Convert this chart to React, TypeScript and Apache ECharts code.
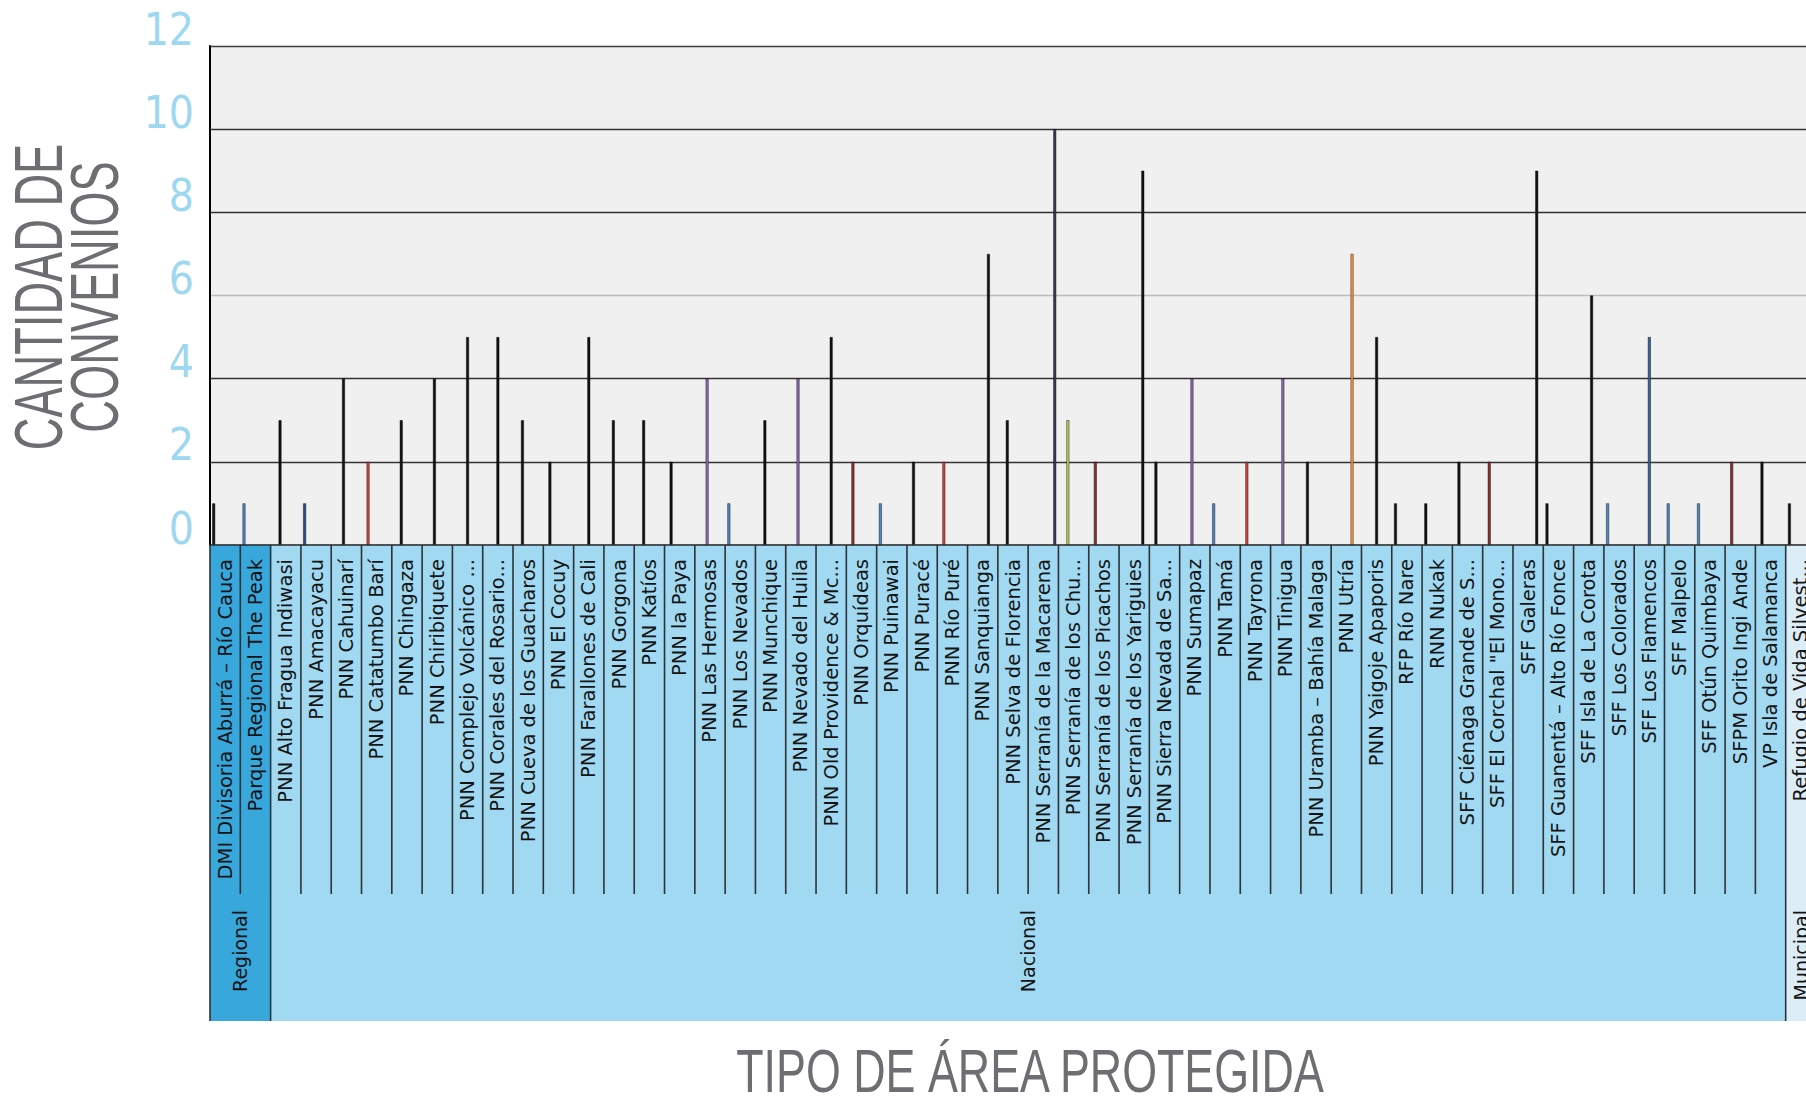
import React, { useEffect, useRef } from "react";
import * as echarts from "echarts";

// Protected areas (category axis), in chart order
const categories: string[] = [
  "DMI Divisoria Aburrá – Río Cauca",
  "Parque Regional The Peak",
  "PNN Alto Fragua Indiwasi",
  "PNN Amacayacu",
  "PNN Cahuinarí",
  "PNN Catatumbo Barí",
  "PNN Chingaza",
  "PNN Chiribiquete",
  "PNN Complejo Volcánico ...",
  "PNN Corales del Rosario...",
  "PNN Cueva de los Guacharos",
  "PNN El Cocuy",
  "PNN Farallones de Cali",
  "PNN Gorgona",
  "PNN Katíos",
  "PNN la Paya",
  "PNN Las Hermosas",
  "PNN Los Nevados",
  "PNN Munchique",
  "PNN Nevado del Huila",
  "PNN Old Providence & Mc...",
  "PNN Orquídeas",
  "PNN Puinawai",
  "PNN Puracé",
  "PNN Río Puré",
  "PNN Sanquianga",
  "PNN Selva de Florencia",
  "PNN Serranía de la Macarena",
  "PNN Serranía de los Chu...",
  "PNN Serranía de los Picachos",
  "PNN Serranía de los Yariguies",
  "PNN Sierra Nevada de Sa...",
  "PNN Sumapaz",
  "PNN Tamá",
  "PNN Tayrona",
  "PNN Tinigua",
  "PNN Uramba – Bahía Malaga",
  "PNN Utría",
  "PNN Yaigoje Apaporis",
  "RFP Río Nare",
  "RNN Nukak",
  "SFF Ciénaga Grande de S...",
  'SFF El Corchal "El Mono...',
  "SFF Galeras",
  "SFF Guanentá – Alto Río Fonce",
  "SFF Isla de La Corota",
  "SFF Los Colorados",
  "SFF Los Flamencos",
  "SFF Malpelo",
  "SFF Otún Quimbaya",
  "SFPM Orito Ingi Ande",
  "VP Isla de Salamanca",
  "Refugio de Vida Silvest...",
];

// Cantidad de convenios per protected area
const values: number[] = [
  1, 1, 3, 1, 4, 2, 3, 4, 5, 5, 3, 2, 5, 3, 3, 2, 4, 1, 3, 4, 5, 2, 1, 2, 2, 7, 3,
  10, 3, 2, 9, 2, 4, 1, 2, 4, 2, 7, 5, 1, 1, 2, 2, 9, 1, 6, 1, 5, 1, 1, 2, 2, 1,
];

// Group level of the category axis (tipo de área) and how many areas each holds
const groupNames: string[] = ["Regional", "Nacional", "Municipal"];
const groupCounts: number[] = [2, 50, 1];

// Y axis ticks
const yTicks: number[] = [0, 2, 4, 6, 8, 10, 12];

// Bar colour key per area
const barColorKeys: string[] = [
  "k", "b", "k", "db", "k", "r", "k", "k", "k", "k", "k", "k", "k", "k", "k", "k",
  "p", "b", "k", "p", "k", "dr", "b", "k", "r", "k", "k", "dp", "g", "dr", "k", "k",
  "p", "b", "r", "p", "k", "o", "k", "k", "k", "k", "dr", "k", "k", "k", "b", "nb",
  "b", "b", "dr", "k", "k",
];

const palette: Record<string, string> = {
  k: "#111111",
  b: "#4f86c6",
  db: "#234a82",
  nb: "#3a6496",
  r: "#d0463f",
  dr: "#86302c",
  p: "#8a6bb0",
  dp: "#433259",
  g: "#b3d05a",
  o: "#f59a3c",
};

const groupColors = ["#38a7dc", "#a0d9f1", "#dcedf8"];

export default function App() {
  const ref = useRef<HTMLDivElement>(null);

  useEffect(() => {
    if (!ref.current) return;
    const chart = echarts.init(ref.current, undefined, { renderer: "svg" });

    const distinct = Array.from(new Set(values)).sort((a, b) => a - b);
    const barSeries = distinct.map((v) => ({
      type: "bar",
      name: String(v),
      xAxisIndex: 0,
      yAxisIndex: 0,
      barGap: "0%",
      barCategoryGap: "15%",
      silent: true,
      z: 2,
      itemStyle: { borderColor: "#0d0d0d", borderWidth: 0.45 },
      data: values.map((x, i) =>
        x === v ? { value: x, itemStyle: { color: palette[barColorKeys[i]] } } : "-"
      ),
    }));

    // category -> group index
    const catGroup: number[] = [];
    groupCounts.forEach((n, gi) => {
      for (let k = 0; k < n; k++) catGroup.push(gi);
    });
    const groupSpans: number[][] = [];
    let acc = 0;
    groupCounts.forEach((n, gi) => {
      groupSpans.push([acc, acc + n, gi]);
      acc += n;
    });

    const cellSeries = {
      type: "custom",
      xAxisIndex: 1,
      yAxisIndex: 1,
      silent: true,
      z: 1,
      clip: false,
      data: categories.map((_, i) => [i, catGroup[i]]),
      renderItem: (params: any, api: any) => {
        const i = api.value(0);
        const g = api.value(1);
        const p0 = api.coord([i, 1]);
        const p1 = api.coord([i + 1, 0]);
        return {
          type: "group",
          children: [
            {
              type: "rect",
              shape: { x: p0[0], y: p0[1], width: p1[0] - p0[0], height: p1[1] - p0[1] },
              style: { fill: groupColors[g] },
            },
            {
              type: "line",
              shape: { x1: p0[0], y1: p0[1], x2: p0[0], y2: p1[1] },
              style: { stroke: "#2c3338", lineWidth: 1.6 },
            },
          ],
        };
      },
    };

    const groupSeries = {
      type: "custom",
      xAxisIndex: 2,
      yAxisIndex: 2,
      silent: true,
      z: 1,
      clip: false,
      data: groupSpans,
      renderItem: (params: any, api: any) => {
        const s = api.value(0);
        const e = api.value(1);
        const gi = api.value(2);
        const p0 = api.coord([s, 1]);
        const p1 = api.coord([e, 0]);
        return {
          type: "group",
          children: [
            {
              type: "rect",
              shape: { x: p0[0], y: p0[1], width: p1[0] - p0[0], height: p1[1] - p0[1] },
              style: { fill: groupColors[gi] },
            },
            {
              type: "line",
              shape: { x1: p0[0], y1: p0[1], x2: p0[0], y2: p1[1] },
              style: { stroke: "#2c3338", lineWidth: 1.6 },
            },
            {
              type: "text",
              x: (p0[0] + p1[0]) / 2,
              y: p0[1] + 16,
              rotation: Math.PI / 2,
              style: {
                text: groupNames[gi],
                fill: "#141414",
                font: '19px "DejaVu Sans"',
                align: "right",
                verticalAlign: "middle",
                textAlign: "right",
                textVerticalAlign: "middle",
              },
            },
          ],
        };
      },
    };

    const gridBase = { left: 210, width: 1606, outerBoundsMode: "none", containLabel: false };

    const option: any = {
      animation: false,
      backgroundColor: "#ffffff",
      grid: [
        { ...gridBase, top: 46, height: 499, show: true, backgroundColor: "#f0f0f0", borderWidth: 0 },
        { ...gridBase, top: 545, height: 349 },
        { ...gridBase, top: 894, height: 127 },
      ],
      xAxis: [
        {
          type: "category",
          gridIndex: 0,
          data: categories,
          z: 5,
          axisLine: { show: true, lineStyle: { color: "#2b2b2b", width: 1.5 } },
          axisTick: { show: false },
          splitLine: { show: false },
          axisLabel: {
            interval: 0,
            rotate: 90,
            margin: 14,
            fontFamily: "DejaVu Sans",
            fontSize: 19.5,
            color: "#141414",
          },
        },
        { type: "value", gridIndex: 1, min: 0, max: 53, show: false },
        { type: "value", gridIndex: 2, min: 0, max: 53, show: false },
      ],
      yAxis: [
        {
          type: "value",
          gridIndex: 0,
          min: yTicks[0],
          max: yTicks[yTicks.length - 1],
          interval: yTicks[1] - yTicks[0],
          axisLine: { show: true, lineStyle: { color: "#000000", width: 2 } },
          axisTick: { show: false },
          splitLine: {
            show: true,
            lineStyle: {
              color: ["#333333", "#333333", "#333333", "#bcbcbc", "#333333", "#333333", "#3a3a3a"],
              width: 1.3,
            },
          },
          axisLabel: {
            margin: 16,
            color: "#9dd7f0",
            fontSize: 44,
            fontFamily: "'Liberation Sans Narrow', 'DejaVu Sans Condensed', 'Liberation Sans', sans-serif",
            verticalAlign: "bottom",
            lineHeight: 34,
            formatter: (v: number) => String(v),
          },
        },
        { type: "value", gridIndex: 1, min: 0, max: 1, show: false },
        { type: "value", gridIndex: 2, min: 0, max: 1, show: false },
      ],
      series: [...barSeries, cellSeries, groupSeries],
      graphic: [
        {
          type: "text",
          x: 66,
          y: 297,
          rotation: Math.PI / 2,
          scaleX: 0.665,
          silent: true,
          style: {
            text: "CANTIDAD DE\nCONVENIOS",
            font: '68px "Liberation Sans"',
            fill: "#6d6e71",
            align: "center",
            verticalAlign: "middle",
            textAlign: "center",
            textVerticalAlign: "middle",
            lineHeight: 56,
          },
        },
        {
          type: "text",
          x: 1030,
          y: 1070,
          scaleX: 0.723,
          silent: true,
          style: {
            text: "TIPO DE ÁREA PROTEGIDA",
            font: '62px "Liberation Sans"',
            fill: "#6d6e71",
            align: "center",
            verticalAlign: "middle",
            textAlign: "center",
            textVerticalAlign: "middle",
            lineHeight: 46,
          },
        },
      ],
    };

    chart.setOption(option);
    return () => chart.dispose();
  }, []);

  return (
    <div
      ref={ref}
      style={{ position: "absolute", left: 0, top: 0, width: "1806px", height: "1105px" }}
    />
  );
}
